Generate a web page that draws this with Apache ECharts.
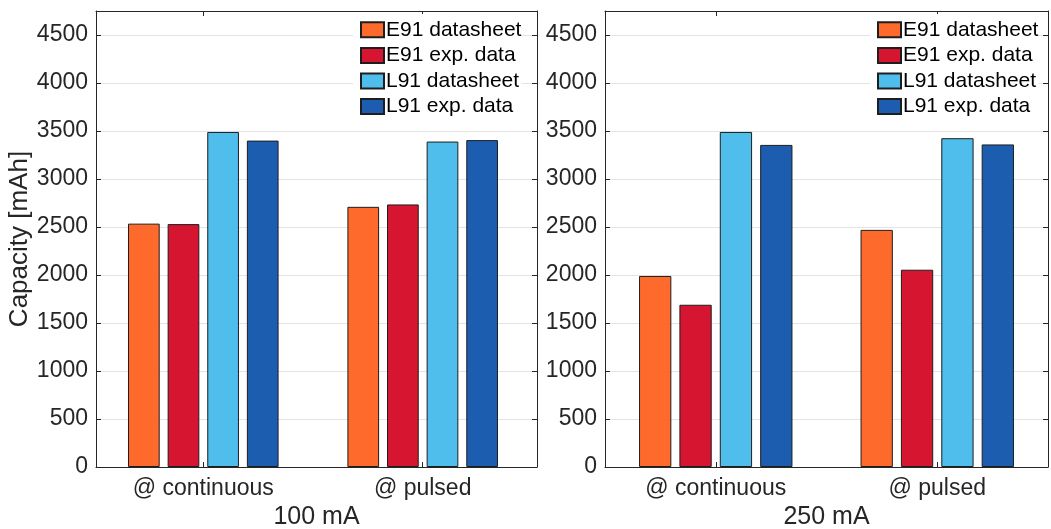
<!DOCTYPE html>
<html>
<head>
<meta charset="utf-8">
<script src="https://cdn.jsdelivr.net/npm/echarts@6/dist/echarts.min.js"></script>
<style>
  html, body { margin: 0; padding: 0; background: #fff; }
  #chart { width: 1051px; height: 529px; }
</style>
</head>
<body>
<div id="chart"></div>
<script>
// ---- data ----
const categories = ['@ continuous', '@ pulsed'];
const panelTitles = ['100 mA', '250 mA'];
const seriesNames = ['E91 datasheet', 'E91 exp. data', 'L91 datasheet', 'L91 exp. data'];
const seriesColors = ['#FE6A2B', '#D61530', '#4FBEEC', '#1C5DAF'];

const e91Datasheet100 = [2535, 2710];
const e91Exp100       = [2530, 2735];
const l91Datasheet100 = [3490, 3390];
const l91Exp100       = [3400, 3405];

const e91Datasheet250 = [1990, 2470];
const e91Exp250       = [1690, 2055];
const l91Datasheet250 = [3490, 3425];
const l91Exp250       = [3355, 3360];

const yMax = 4750;
const yInterval = 500;
const yAxisTitle = 'Capacity [mAh]';

// ---- build ----
const panels = [
  { title: panelTitles[0], data: [e91Datasheet100, e91Exp100, l91Datasheet100, l91Exp100] },
  { title: panelTitles[1], data: [e91Datasheet250, e91Exp250, l91Datasheet250, l91Exp250] }
];
const catPos = categories.map((c, i) => i + 1);

const axisColor = '#262626';
const fontFam = '"Liberation Sans", Arial, Helvetica, sans-serif';

const grids = [
  { left: 96, top: 11, width: 441, height: 456, xmin: 0.511, xmax: 2.521, barW: 31.7, legendLeft: 353 },
  { left: 605, top: 11, width: 443, height: 456, xmin: 0.5, xmax: 2.5, barW: 32.3, legendLeft: 870 }
];

const option = {
  animation: false,
  backgroundColor: '#fff',
  textStyle: { fontFamily: fontFam },
  grid: grids.map(g => ({ left: g.left, top: g.top, width: g.width, height: g.height,
    containLabel: false, outerBoundsMode: 'none' })),
  xAxis: [],
  yAxis: [],
  legend: [],
  series: []
};

grids.forEach((g, gi) => {
  // bottom x axis
  option.xAxis.push({
    type: 'value', gridIndex: gi, min: g.xmin, max: g.xmax, position: 'bottom',
    name: panels[gi].title, nameLocation: 'middle', nameGap: 36,
    nameTextStyle: { fontSize: 25, color: axisColor, fontFamily: fontFam },
    axisLine: { show: true, onZero: false, lineStyle: { color: axisColor, width: 1 } },
    axisTick: { show: true, inside: true, length: 5, customValues: catPos, lineStyle: { color: axisColor } },
    axisLabel: { show: true, customValues: catPos, margin: 10, fontSize: 23, color: axisColor,
      fontFamily: fontFam, formatter: v => categories[Math.round(v) - 1] || '' },
    splitLine: { show: false }
  });
  // top x axis (box)
  option.xAxis.push({
    type: 'value', gridIndex: gi, min: g.xmin, max: g.xmax, position: 'top',
    axisLine: { show: true, onZero: false, lineStyle: { color: axisColor, width: 1 } },
    axisTick: { show: true, inside: true, length: 5, customValues: catPos, lineStyle: { color: axisColor } },
    axisLabel: { show: false },
    splitLine: { show: false }
  });
  // left y axis
  option.yAxis.push({
    type: 'value', gridIndex: gi, min: 0, max: yMax, interval: yInterval, position: 'left',
    name: gi === 0 ? yAxisTitle : '', nameLocation: 'middle', nameGap: 53, nameRotate: 90,
    nameTextStyle: { fontSize: 26, color: axisColor, fontFamily: fontFam },
    axisLine: { show: true, onZero: false, lineStyle: { color: axisColor, width: 1 } },
    axisTick: { show: true, inside: true, length: 5, lineStyle: { color: axisColor } },
    axisLabel: { show: true, margin: 8, fontSize: 23, color: axisColor, fontFamily: fontFam,
      formatter: v => (v <= 4500 ? String(v) : '') },
    splitLine: { show: true, lineStyle: { color: '#e3e3e3', width: 1 } }
  });
  // right y axis (box)
  option.yAxis.push({
    type: 'value', gridIndex: gi, min: 0, max: yMax, interval: yInterval, position: 'right',
    axisLine: { show: true, onZero: false, lineStyle: { color: axisColor, width: 1 } },
    axisTick: { show: true, inside: true, length: 5, lineStyle: { color: axisColor } },
    axisLabel: { show: false },
    splitLine: { show: false }
  });

  panels[gi].data.forEach((vals, si) => {
    option.series.push({
      type: 'bar', name: seriesNames[si],
      xAxisIndex: gi * 2, yAxisIndex: gi * 2,
      barWidth: g.barW, barGap: '25%',
      itemStyle: { color: seriesColors[si], borderColor: '#1e1e1e', borderWidth: 1 },
      emphasis: { disabled: true },
      data: vals.map((v, ci) => [catPos[ci], v])
    });
  });

  option.legend.push({
    show: true,
    left: g.legendLeft, top: 14,
    orient: 'vertical', align: 'left',
    backgroundColor: '#fff',
    padding: [3, 0, 3, 7],
    itemWidth: 23, itemHeight: 15, itemGap: 0,
    icon: 'rect',
    textStyle: { fontSize: 21, color: '#000', fontFamily: fontFam, lineHeight: 25.6, padding: [0, 0, 0, -3] },
    data: seriesNames,
    selectedMode: false
  });
});

const chart = echarts.init(document.getElementById('chart'), null, { renderer: 'canvas' });
chart.setOption(option);
</script>
</body>
</html>
